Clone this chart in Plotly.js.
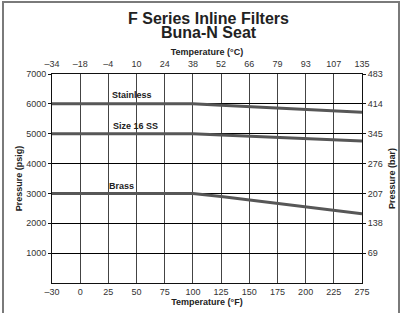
<!DOCTYPE html>
<html>
<head>
<meta charset="utf-8">
<script src="https://cdn.plot.ly/plotly-3.0.1.min.js"></script>
<style>
  html, body { margin: 0; padding: 0; background: #fff; }
  #wrap { position: relative; width: 403px; height: 313px; }
  #chart { width: 403px; height: 313px; }
  #frame { position: absolute; left: 2px; top: 1px; width: 398px; height: 330px;
           border: 2px solid #7a7a7a; pointer-events: none; box-sizing: border-box; }
</style>
</head>
<body>
<div id="wrap">
  <div id="chart"></div>
  <div id="frame"></div>
</div>
<script>
// Temperature tick labels (bottom axis, °F) - evenly spaced categories
const tempF = ['\u201330', '0', '25', '50', '75', '100', '125', '150', '175', '200', '225', '275'];
// Top axis labels (°C)
const tempC = ['\u201334', '\u201318', '\u20134', '10', '24', '38', '52', '66', '79', '93', '107', '135'];

// Pressure ratings (psig) at each °F category
const stainless = [6000, 6000, 6000, 6000, 6000, 6000, 5955, 5910, 5860, 5815, 5770, 5720];
const size16SS  = [5000, 5000, 5000, 5000, 5000, 5000, 4955, 4910, 4875, 4835, 4800, 4755];
const brass     = [3000, 3000, 3000, 3000, 3000, 3000, 2900, 2780, 2660, 2550, 2440, 2320];

// Left axis ticks (psig) and right axis labels (bar)
const psiTicks = [1000, 2000, 3000, 4000, 5000, 6000, 7000];
const barLabels = ['69', '138', '207', '276', '345', '414', '483'];

const seriesNames = ['Stainless', 'Size 16 SS', 'Brass'];
const seriesData = [stainless, size16SS, brass];
const titleLines = ['F Series Inline Filters', 'Buna-N Seat'];

const FONT = 'Liberation Sans, Arial, Helvetica, sans-serif';
const tickFont = { family: FONT, size: 9, color: '#333' };
const titleFont = { family: FONT, size: 9, color: '#222', weight: 'bold' };

const traces = seriesData.map((ys, i) => ({
  type: 'scatter', mode: 'lines', name: seriesNames[i],
  x: tempF, y: ys, xaxis: 'x', yaxis: 'y',
  line: { color: '#575757', width: 3 },
  hoverinfo: 'skip', showlegend: false
}));

// invisible trace to activate the secondary axes
traces.push({
  type: 'scatter', mode: 'markers', x: [0], y: [0], xaxis: 'x2', yaxis: 'y2',
  marker: { opacity: 0 }, hoverinfo: 'skip', showlegend: false
});

const labelPos = [
  { x: 2.84, y: 6290 },
  { x: 2.98, y: 5260 },
  { x: 2.48, y: 3250 }
];
const annotations = seriesNames.map((n, i) => ({
  text: '<b>' + n + '</b>', x: labelPos[i].x, y: labelPos[i].y, xref: 'x', yref: 'y',
  showarrow: false, font: { family: FONT, size: 9, color: '#222' }
}));
const titleY = [1.266, 1.197];
titleLines.forEach((t, i) => annotations.push({
  text: '<b>' + t + '</b>', x: 0.505, y: titleY[i], xref: 'paper', yref: 'paper',
  xanchor: 'center', yanchor: 'middle', showarrow: false,
  font: { family: FONT, size: 16, color: '#222' }
}));

const layout = {
  width: 403, height: 313,
  margin: { l: 52, r: 41, t: 74, b: 30, pad: 0 },
  paper_bgcolor: '#fff', plot_bgcolor: '#fff',
  showlegend: false,
  xaxis: {
    type: 'category', range: [0, 11],
    showgrid: true, gridcolor: '#444', gridwidth: 1,
    showline: true, linecolor: '#111', linewidth: 1, mirror: true,
    ticks: '', tickfont: tickFont, zeroline: false,
    title: { text: 'Temperature (\u00b0F)', font: titleFont, standoff: 2 }
  },
  xaxis2: {
    overlaying: 'x', side: 'top', anchor: 'y', range: [0, 11],
    tickmode: 'array', tickvals: tempC.map((_, i) => i), ticktext: tempC,
    showgrid: false, showline: false, ticks: '', tickfont: tickFont, zeroline: false,
    ticklabelstandoff: 4,
    title: { text: 'Temperature (\u00b0C)', font: titleFont, standoff: 2 }
  },
  yaxis: {
    range: [0, 7000], tickmode: 'array', tickvals: psiTicks,
    showgrid: true, gridcolor: '#000', gridwidth: 1,
    showline: true, linecolor: '#111', linewidth: 1, mirror: true,
    ticks: 'outside', ticklen: 3, tickcolor: '#111', tickfont: tickFont, zeroline: false,
    title: { text: 'Pressure (psig)', font: titleFont, standoff: 2 }
  },
  yaxis2: {
    overlaying: 'y', side: 'right', anchor: 'x', range: [0, 7000],
    tickmode: 'array', tickvals: psiTicks, ticktext: barLabels,
    showgrid: false, showline: false, ticks: 'outside', ticklen: 3, tickcolor: '#111',
    tickfont: tickFont, zeroline: false,
    title: { text: 'Pressure (bar)', font: titleFont, standoff: 6 }
  },
  annotations: annotations
};

Plotly.newPlot('chart', traces, layout, { staticPlot: true, displayModeBar: false });
</script>
</body>
</html>
